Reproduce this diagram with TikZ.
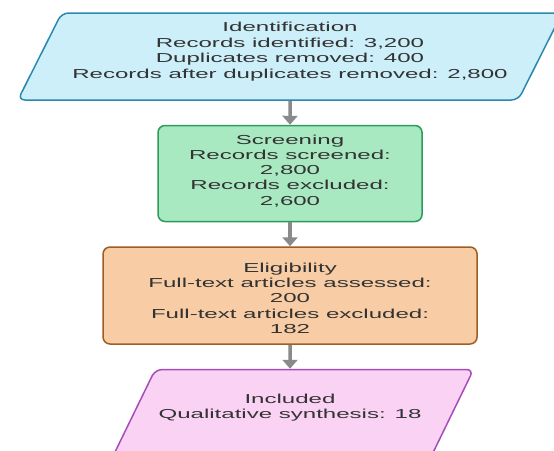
\documentclass[tikz,border=0pt]{standalone}
\usepackage{fontspec}
\setmainfont[FakeStretch=1.85]{Liberation Sans}
\usepackage{xcolor}
\definecolor{identfill}{HTML}{CDEFFA}
\definecolor{identline}{HTML}{2A88AE}
\definecolor{screenfill}{HTML}{A9E9C2}
\definecolor{screenline}{HTML}{2E9A5C}
\definecolor{eligfill}{HTML}{F8CCA4}
\definecolor{eligline}{HTML}{9E5E22}
\definecolor{inclfill}{HTML}{FAD2F4}
\definecolor{inclline}{HTML}{A64DBA}
\definecolor{flowgray}{HTML}{8A8A8A}
\definecolor{textgray}{HTML}{333333}
\usetikzlibrary{arrows.meta, shapes.geometric, positioning}

\begin{document}
\begin{tikzpicture}[>={Triangle[width=15pt,length=9pt]}]

  \path[fill=white] (0,0) rectangle (554pt,-450pt);
  \useasboundingbox (0,0) rectangle (554pt,-450pt);

  \node[draw=identline, fill=identfill, line width=1.5pt, rounded corners=7pt,
        trapezium, trapezium left angle=64, trapezium right angle=116,
        trapezium stretches=true, minimum width=546pt, minimum height=87pt,
        inner ysep=9.5pt, text depth=12pt,
        align=center, font=\fontsize{13}{15.5}\selectfont, text=textgray]
        (ident) at (290pt,-56.5pt)
        {Identification\\Records identified: 3,200\\Duplicates removed: 400\\Records after duplicates removed: 2,800};

  \node[draw=screenline, fill=screenfill, line width=1.5pt, rounded corners=7pt,
        minimum width=264pt, minimum height=96pt, text depth=7pt,
        align=center, font=\fontsize{13}{15.25}\selectfont, text=textgray,
        below=24pt of ident] (screen)
        {Screening\\Records screened:\\2,800\\Records excluded:\\2,600};

  \node[draw=eligline, fill=eligfill, line width=1.5pt, rounded corners=7pt,
        minimum width=374pt, minimum height=97pt, text height=76pt,
        align=center, font=\fontsize{13}{15.25}\selectfont, text=textgray,
        below=24pt of screen] (elig)
        {Eligibility\\Full-text articles assessed:\\200\\Full-text articles excluded:\\182};

  \node[draw=inclline, fill=inclfill, line width=1.5pt, rounded corners=7pt,
        trapezium, trapezium left angle=64, trapezium right angle=116,
        trapezium stretches=true, minimum width=360pt, minimum height=100pt,
        inner ysep=24.5pt, text depth=26pt,
        align=center, font=\fontsize{13}{15.5}\selectfont, text=textgray,
        below=24pt of elig] (incl)
        {Included\\Qualitative synthesis: 18};

  \draw[->, line width=3.5pt, flowgray] (ident) -- (screen);
  \draw[->, line width=3.5pt, flowgray] (screen) -- (elig);
  \draw[->, line width=3.5pt, flowgray] (elig) -- (incl);

\end{tikzpicture}
\end{document}
